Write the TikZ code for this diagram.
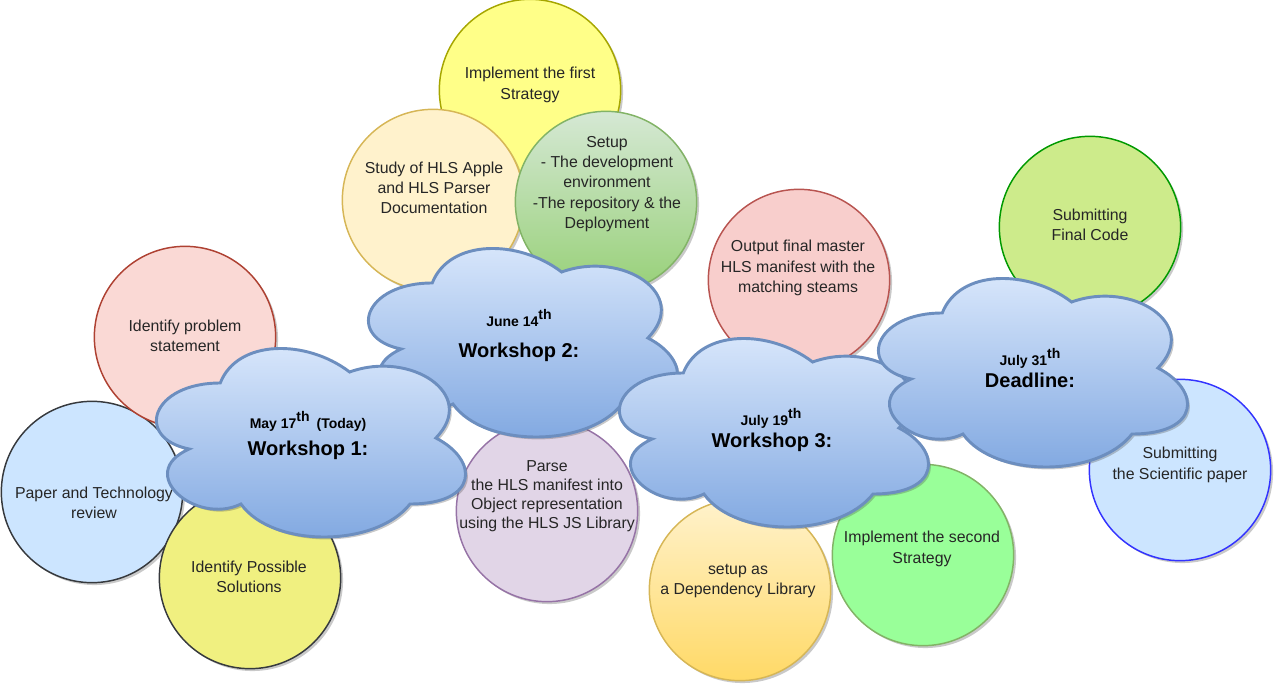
\documentclass[tikz,border=0pt]{standalone}
\usepackage{fontspec}
\setmainfont{Liberation Sans}
\usetikzlibrary{shadows}

\definecolor{firstfill}{HTML}{FFFF88}
\definecolor{firstline}{HTML}{A6A600}
\definecolor{studyfill}{HTML}{FFF2CC}
\definecolor{studyline}{HTML}{D6B656}
\definecolor{setuptop}{HTML}{D5E8D4}
\definecolor{setupbot}{HTML}{97D077}
\definecolor{setupline}{HTML}{82B366}
\definecolor{outfill}{HTML}{F8CECC}
\definecolor{outline}{HTML}{B85450}
\definecolor{codefill}{HTML}{CDEB8B}
\definecolor{codeline}{HTML}{009900}
\definecolor{probfill}{HTML}{FAD9D5}
\definecolor{probline}{HTML}{AE4132}
\definecolor{paperfill}{HTML}{CCE5FF}
\definecolor{darkline}{HTML}{36393D}
\definecolor{solfill}{HTML}{F0F080}
\definecolor{parsefill}{HTML}{E1D5E7}
\definecolor{parseline}{HTML}{9673A6}
\definecolor{deptop}{HTML}{FFF2CC}
\definecolor{depbot}{HTML}{FFD966}
\definecolor{secfill}{HTML}{99FF99}
\definecolor{sciline}{HTML}{3333FF}
\definecolor{cloudtop}{HTML}{DAE8FC}
\definecolor{cloudbot}{HTML}{7EA6E0}
\definecolor{cloudline}{HTML}{6C8EBF}

\newcommand{\ordth}{\raisebox{0.45em}{th}}

% cloud outline, drawn in a 345 x 220 box whose top left corner is #1,#2
\newcommand{\wscloud}[2]{%
  \begin{scope}[shift={(#1,#2)}, x=258.75pt, y=-165pt]
    \path[cloudbody] (0.25,0.25) .. controls (0.05,0.25) and (0,0.5) .. (0.16,0.55)
      .. controls (0,0.66) and (0.18,0.9) .. (0.31,0.8)
      .. controls (0.4,1) and (0.7,1) .. (0.8,0.8)
      .. controls (1,0.8) and (1,0.6) .. (0.875,0.5)
      .. controls (1,0.3) and (0.8,0.1) .. (0.625,0.2)
      .. controls (0.5,0.05) and (0.3,0.05) .. (0.25,0.25) -- cycle;
  \end{scope}}

\tikzset{
  disc/.style={circle, minimum size=136pt, line width=1.1pt,
    drop shadow={shadow xshift=1.8pt, shadow yshift=-1.8pt, opacity=0.3, fill=black!70}},
  lbl/.style={align=center, text=black!85, inner sep=0pt,
    font=\fontsize{11.9}{15.2}\selectfont},
  cloudbody/.style={draw=cloudline, line width=2.2pt, top color=cloudtop, bottom color=cloudbot,
    drop shadow={shadow xshift=1.8pt, shadow yshift=-1.8pt, opacity=0.3, fill=black!70}},
  wsdate/.style={anchor=base, inner sep=0pt, font=\bfseries\fontsize{10.5}{12}\selectfont},
  wstitle/.style={anchor=base, inner sep=0pt, font=\bfseries\fontsize{15}{18}\selectfont}
}

\begin{document}
\begin{tikzpicture}[x=0.75pt, y=-0.75pt]
 \useasboundingbox (0,0) rectangle (1286,692);

 % top group
 \node[disc, fill=firstfill, draw=firstline] (first) at (530,90) {};
 \node[lbl] (first-t) at (530,85) {Implement the first\\Strategy};

 \node[disc, fill=studyfill, draw=studyline] (study) at (433,200) {};
 \node[lbl] (study-t) at (434,188) {Study of HLS Apple\\and HLS Parser\\Documentation};

 \node[disc, top color=setuptop, bottom color=setupbot, draw=setupline] (setup) at (606,202) {};
 \node[lbl] (setup-t) at (607,184) {Setup\\- The development\\environment\\-The repository \& the\\Deployment};

 % left group
 \node[disc, fill=paperfill, draw=darkline] (paper) at (92,492) {};
 \node[lbl] (paper-t) at (94,503) {Paper and Technology\\review};

 \node[disc, fill=probfill, draw=probline] (prob) at (185,337) {};
 \node[lbl] (prob-t) at (185,336) {Identify problem\\statement};

 \node[disc, fill=solfill, draw=darkline] (sol) at (250,578) {};
 \node[lbl] (sol-t) at (249,577) {Identify Possible\\Solutions};

 % right group
 \node[disc, fill=outfill, draw=outline] (out) at (799,280) {};
 \node[lbl] (out-t) at (798,268) {Output final master\\HLS manifest with the\\matching steams};

 \node[disc, fill=codefill, draw=codeline] (code) at (1090,227) {};
 \node[lbl] (code-t) at (1090,225) {Submitting\\Final Code};

 \node[disc, fill=paperfill, draw=sciline] (sci) at (1180,470) {};
 \node[lbl] (sci-t) at (1180,465) {Submitting\\the Scientific paper};

 % bottom group
 \node[disc, fill=parsefill, draw=parseline] (parse) at (547,511) {};
 \node[lbl, font=\fontsize{11.9}{14.4}\selectfont] (parse-t) at (547,496) {Parse\\the HLS manifest into\\Object representation\\using the HLS JS Library};

 \node[disc, top color=deptop, bottom color=depbot, draw=studyline] (dep) at (740,590) {};
 \node[lbl] (dep-t) at (738,581) {setup as\\a Dependency Library};

 \node[disc, fill=secfill, draw=setupline] (sec) at (923,555) {};
 \node[lbl] (sec-t) at (922,549) {Implement the second\\Strategy};

 % clouds
 \wscloud{346}{228}
 \node[wsdate] (ws2d) at (519,326) {June 14\ordth};
 \node[wstitle] (ws2) at (519,357) {Workshop 2:};

 \wscloud{134}{328}
 \node[wsdate] (ws1d) at (308,428) {May 17\ordth\hspace{0.5em}(Today)};
 \node[wstitle] (ws1) at (308,455) {Workshop 1:};

 \wscloud{597}{318}
 \node[wsdate] (ws3d) at (771,425) {July 19\ordth};
 \node[wstitle] (ws3) at (772,447) {Workshop 3:};

 \wscloud{856}{258}
 \node[wsdate] (dld) at (1030,365) {July 31\ordth};
 \node[wstitle] (dl) at (1030,387) {Deadline:};

\end{tikzpicture}
\end{document}
